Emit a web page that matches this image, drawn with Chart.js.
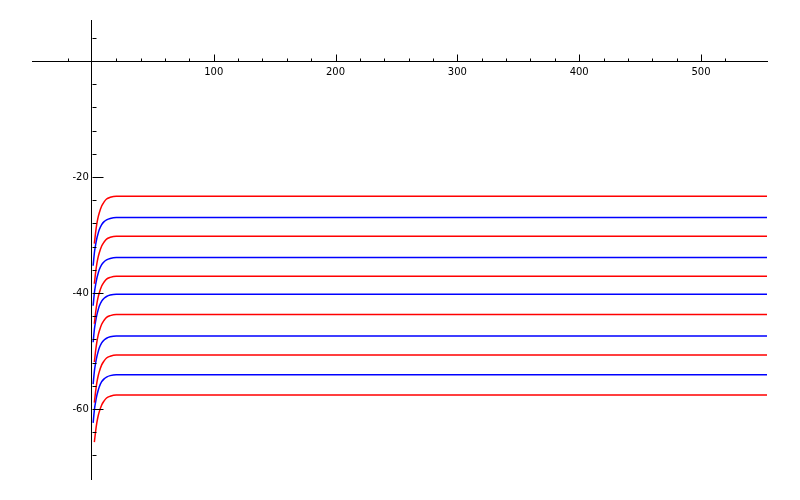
<!DOCTYPE html>
<html>
<head>
<meta charset="utf-8">
<script src="https://cdn.jsdelivr.net/npm/chart.js@4"></script>
<style>
  html, body { margin: 0; padding: 0; background: #fff; }
</style>
</head>
<body>
<canvas id="curvesChart" width="800" height="500"></canvas>
<script>
// x positions (red curves start a little later than blue)
const redX = [2, 3, 4, 5, 6, 8, 10, 12, 15, 20, 555];
const blueX = [1, 2, 3, 4, 5, 6, 8, 10, 12, 15, 20, 555];

const redSeries = [
  [-31.5, -29.6, -28.1, -27.0, -26.2, -25.0, -24.3, -23.8, -23.5, -23.3, -23.3],
  [-38.4, -36.5, -35.0, -33.9, -33.1, -31.9, -31.2, -30.7, -30.4, -30.2, -30.2],
  [-45.3, -43.4, -41.9, -40.8, -40.0, -38.8, -38.1, -37.6, -37.3, -37.1, -37.1],
  [-51.9, -50.0, -48.5, -47.4, -46.6, -45.4, -44.7, -44.2, -43.9, -43.7, -43.7],
  [-58.9, -57.0, -55.5, -54.4, -53.6, -52.4, -51.7, -51.2, -50.9, -50.7, -50.7],
  [-65.7, -63.9, -62.4, -61.3, -60.5, -59.3, -58.6, -58.1, -57.8, -57.6, -57.6]
];
const blueSeries = [
  [-35.3, -33.1, -31.7, -30.6, -29.8, -29.1, -28.2, -27.7, -27.4, -27.15, -27.0, -27.0],
  [-42.2, -40.0, -38.6, -37.5, -36.7, -36.0, -35.1, -34.6, -34.3, -34.05, -33.9, -33.9],
  [-48.5, -46.3, -44.9, -43.8, -43.0, -42.3, -41.4, -40.9, -40.6, -40.35, -40.2, -40.2],
  [-55.7, -53.5, -52.1, -51.0, -50.2, -49.5, -48.6, -48.1, -47.8, -47.55, -47.4, -47.4],
  [-62.4, -60.2, -58.8, -57.7, -56.9, -56.2, -55.3, -54.8, -54.5, -54.25, -54.1, -54.1]
];

// axis ranges and ticks
const xRange = [-49.2, 554.2];
const yRange = [-72.07, 7.07];
const xLabelTicks = [100, 200, 300, 400, 500];
const yLabelTicks = [-20, -40, -60];

function toPoints(xs, ys) {
  return ys.map((y, i) => ({ x: xs[i], y: y }));
}

const datasets = [];
redSeries.forEach(ys => datasets.push({ data: toPoints(redX, ys), borderColor: '#ff0000' }));
blueSeries.forEach(ys => datasets.push({ data: toPoints(blueX, ys), borderColor: '#0000ff' }));

const near = (v, step) => Math.abs(v / step - Math.round(v / step)) < 1e-6;

// little tick marks like the original plot: major ones longer, all on the inner side
const tickMarks = {
  id: 'tickMarks',
  afterDraw(chart) {
    const { ctx, scales: { x, y } } = chart;
    const x0 = Math.round(x.getPixelForValue(0)) + 0.5;
    const y0 = Math.round(y.getPixelForValue(0)) + 0.5;
    ctx.save();
    ctx.strokeStyle = '#000';
    ctx.lineWidth = 1;
    ctx.beginPath();
    x.ticks.forEach(t => {
      if (!near(t.value, 20) || t.value === 0) return;
      const px = Math.round(x.getPixelForValue(t.value)) + 0.5;
      const len = near(t.value, 100) ? 7 : 3;
      ctx.moveTo(px, y0);
      ctx.lineTo(px, y0 - len);
    });
    y.ticks.forEach(t => {
      if (!near(t.value, 4) || t.value === 0) return;
      const py = Math.round(y.getPixelForValue(t.value)) + 0.5;
      const len = near(t.value, 20) ? 11 : 4;
      ctx.moveTo(x0, py);
      ctx.lineTo(x0 + len, py);
    });
    ctx.stroke();
    ctx.restore();
  }
};

new Chart(document.getElementById('curvesChart').getContext('2d'), {
  type: 'scatter',
  data: { datasets },
  options: {
    responsive: false,
    animation: false,
    devicePixelRatio: 1,
    layout: { padding: { left: 32, right: 33, top: 20, bottom: 21 } },
    datasets: {
      scatter: {
        showLine: true,
        pointRadius: 0,
        borderWidth: 1.5,
        cubicInterpolationMode: 'monotone'
      }
    },
    plugins: {
      legend: { display: false },
      tooltip: { enabled: false }
    },
    scales: {
      x: {
        type: 'linear',
        min: xRange[0],
        max: xRange[1],
        position: { y: 0 },
        afterFit: s => { s.height = 0; },
        grid: { display: false },
        border: { display: true, color: '#000', width: 1 },
        ticks: {
          stepSize: 20,
          autoSkip: false,
          maxRotation: 0,
          padding: -3,
          color: '#000',
          font: { family: 'DejaVu Sans', size: 10 },
          callback: v => xLabelTicks.includes(v) ? String(v) : ''
        }
      },
      y: {
        type: 'linear',
        min: yRange[0],
        max: yRange[1],
        position: { x: 0 },
        afterFit: s => { s.width = 0; },
        grid: { display: false },
        border: { display: true, color: '#000', width: 1 },
        ticks: {
          stepSize: 4,
          autoSkip: false,
          color: '#000',
          font: { family: 'DejaVu Sans', size: 10 },
          // trailing no-break space keeps the label clear of the axis line
          callback: v => yLabelTicks.includes(v) ? String(v) + '\u00a0' : ''
        }
      }
    }
  },
  plugins: [tickMarks]
});
</script>
</body>
</html>
